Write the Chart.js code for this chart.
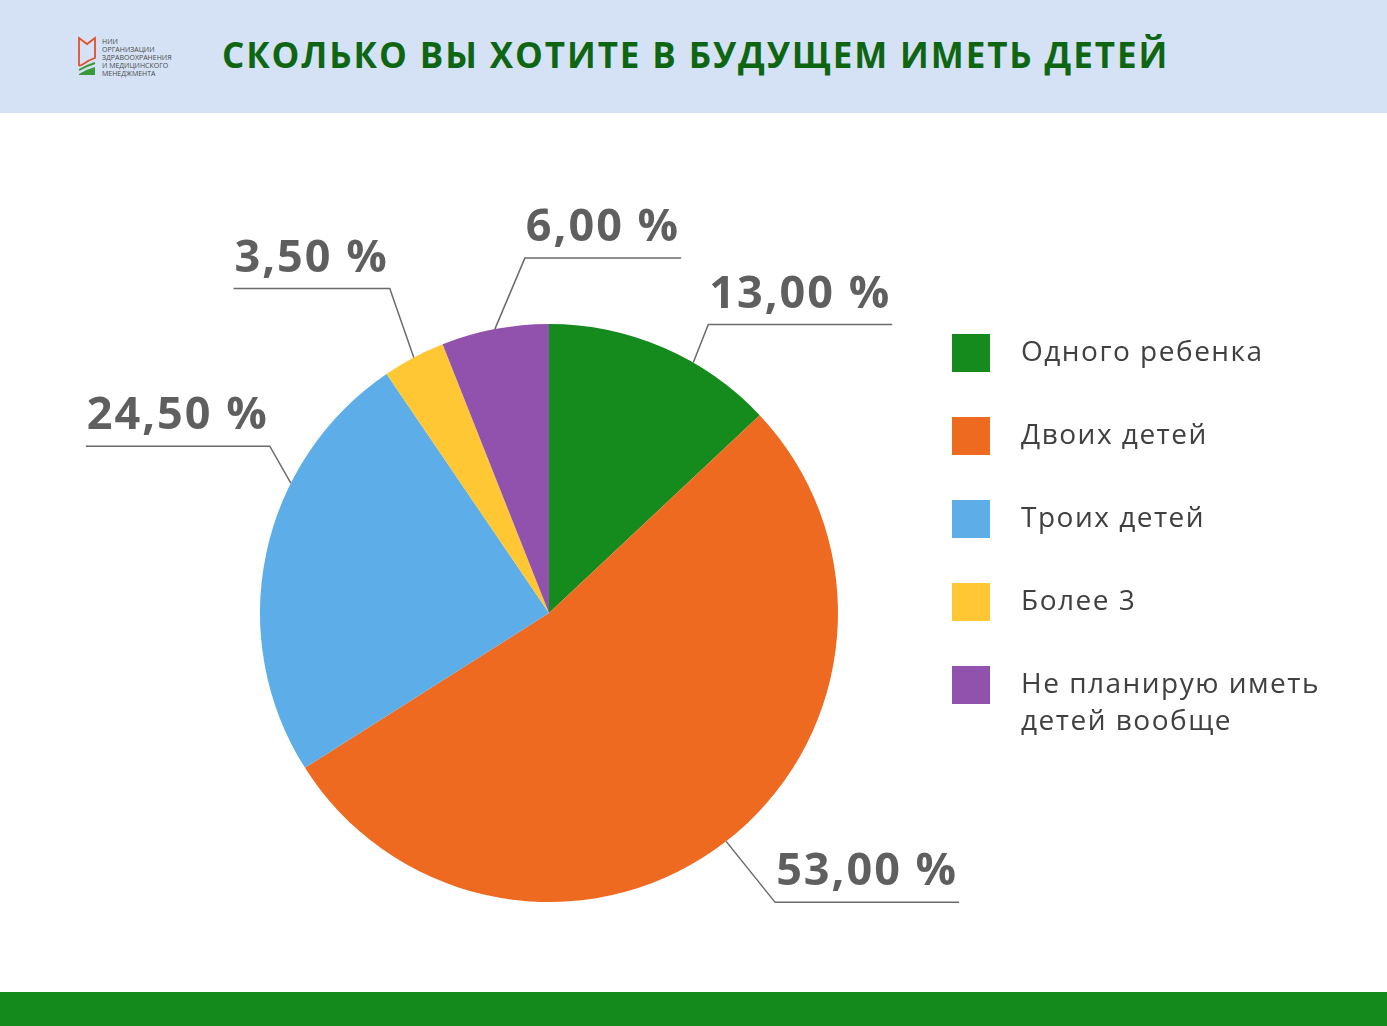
<!DOCTYPE html>
<html>
<head>
<meta charset="utf-8">
<script src="https://cdn.jsdelivr.net/npm/chart.js@4.4.1/dist/chart.umd.min.js"></script>
<style>
  html, body { margin: 0; padding: 0; background: #fff; }
  body { width: 1387px; height: 1026px; position: relative; overflow: hidden; font-family: "Open Sans", sans-serif; }
  #header { position: absolute; left: 0; top: 0; width: 1387px; height: 113px; background: #d5e2f5; }
  #title { position: absolute; left: 222px; top: 33px; font-size: 35px; font-weight: 700; color: #0e6613; letter-spacing: 1.9px; white-space: nowrap; line-height: 44px; }
  #logo { position: absolute; left: 77px; top: 36px; }
  #logoText { position: absolute; left: 102px; top: 38px; font-size: 7px; line-height: 8px; color: #4a4a4a; letter-spacing: 0px; }
  #footer { position: absolute; left: 0; top: 992px; width: 1387px; height: 34px; background: #148a1d; }
  #chart { position: absolute; left: 0; top: 0; }
</style>
</head>
<body>
<div id="header">
  <svg id="logo" width="22" height="42" viewBox="0 0 22 42">
    <path d="M2 30 L2 2 L10 8 L18 2 L18 22 Q12 24 8 27 Q5 29 2 30" fill="none" stroke="#e2502a" stroke-width="1.8"/>
    <path d="M2 34 Q9 30 18 27" fill="none" stroke="#3a9a3a" stroke-width="2"/>
    <path d="M2 39 L18 39 L18 31 Q10 33 2 38" fill="#3a9a3a"/>
  </svg>
  <div id="logoText">НИИ<br>ОРГАНИЗАЦИИ<br>ЗДРАВООХРАНЕНИЯ<br>И МЕДИЦИНСКОГО<br>МЕНЕДЖМЕНТА</div>
  <div id="title">СКОЛЬКО ВЫ ХОТИТЕ В БУДУЩЕМ ИМЕТЬ ДЕТЕЙ</div>
</div>
<div id="footer"></div>
<canvas id="chart" width="1387" height="1026"></canvas>
<script>
// Данные диаграммы
var categories = ['Одного ребенка', 'Двоих детей', 'Троих детей', 'Более 3', ['Не планирую иметь', 'детей вообще']];
var shares = [13.0, 53.0, 24.5, 3.5, 6.0];
var colors = ['#158a1d', '#ee6a20', '#5dade8', '#ffc734', '#9152ad'];

// Формат подписи: 13,00 %
function fmt(v) {
  return v.toFixed(2).replace('.', ',') + ' %';
}

// Выноски с процентами
var leaderPlugin = {
  id: 'leaders',
  afterDatasetsDraw: function(chart, args, opts) {
    var ctx = chart.ctx;
    var meta = chart.getDatasetMeta(0);
    ctx.save();
    ctx.font = 'bold 45px "Open Sans"';
    ctx.letterSpacing = '2px';
    meta.data.forEach(function(arc, i) {
      var o = opts.items[i];
      var a = arc.startAngle + (arc.endAngle - arc.startAngle) * o.at;
      var r = arc.outerRadius;
      var x0 = arc.x + Math.cos(a) * r;
      var y0 = arc.y + Math.sin(a) * r;
      var x1 = x0 + o.dx, y1 = y0 + o.dy;
      var txt = fmt(shares[i]);
      var w = ctx.measureText(txt).width;
      var len = w + 2;
      var x2 = x1 + (o.right ? len : -len);
      ctx.strokeStyle = '#6b6b6b';
      ctx.lineWidth = 1.5;
      ctx.beginPath();
      ctx.moveTo(x0, y0);
      ctx.lineTo(x1, y1);
      ctx.lineTo(x2, y1);
      ctx.stroke();
      ctx.fillStyle = '#5f5f5f';
      ctx.textAlign = 'center';
      ctx.textBaseline = 'alphabetic';
      ctx.fillText(txt, (x1 + x2) / 2, y1 - 17);
    });
    ctx.restore();
  }
};

// Легенда справа
var legendPlugin = {
  id: 'sideLegend',
  afterDraw: function(chart, args, opts) {
    var ctx = chart.ctx;
    var ds = chart.data.datasets[0];
    ctx.save();
    ctx.font = '28px "Open Sans"';
    ctx.letterSpacing = '1.5px';
    ctx.textBaseline = 'middle';
    ctx.textAlign = 'left';
    chart.data.labels.forEach(function(lab, i) {
      var top = opts.top + i * opts.step;
      ctx.fillStyle = ds.backgroundColor[i];
      ctx.fillRect(opts.x, top, opts.box, opts.box);
      ctx.fillStyle = '#404040';
      var lines = Array.isArray(lab) ? lab : [lab];
      lines.forEach(function(t, k) {
        ctx.fillText(t, opts.textX, top + opts.box / 2 + k * 37);
      });
    });
    ctx.restore();
  }
};

var ctx = document.getElementById('chart').getContext('2d');
var chart = new Chart(ctx, {
  type: 'pie',
  data: {
    labels: categories,
    datasets: [{
      data: shares,
      backgroundColor: colors,
      borderWidth: 0
    }]
  },
  options: {
    responsive: false,
    animation: false,
    layout: { padding: { left: 260, right: 549, top: 324, bottom: 124 } },
    plugins: {
      legend: { display: false },
      tooltip: { enabled: false },
      leaders: {
        items: [
          { at: 0.64, dx: 15, dy: -38, right: true },
          { at: 0.5, dx: 49, dy: 61, right: true },
          { at: 0.67, dx: -21, dy: -37, right: false },
          { at: 0.5, dx: -24, dy: -69, right: false },
          { at: 0.5, dx: 30, dy: -71, right: true }
        ]
      },
      sideLegend: { x: 952, top: 334, step: 83, box: 38, textX: 1021 }
    }
  },
  plugins: [leaderPlugin, legendPlugin]
});
</script>
</body>
</html>
